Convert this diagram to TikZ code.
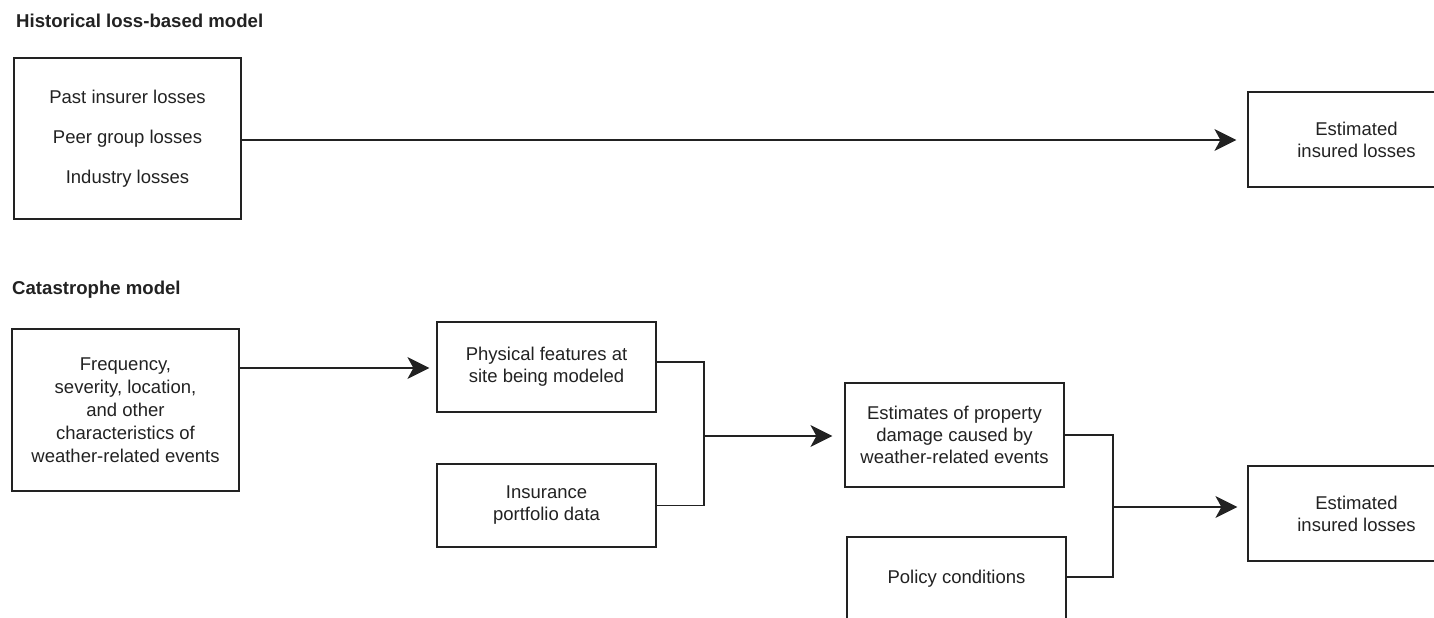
\documentclass[tikz,border=0pt]{standalone}
\usepackage{fontspec}
\setmainfont{Liberation Sans}
\usetikzlibrary{arrows.meta}
\definecolor{ink}{HTML}{222222}
\begin{document}
\begin{tikzpicture}[x=1pt,y=-1pt,
  box/.style={draw=ink,line width=1.2pt,align=center,inner sep=0pt,text=ink,
    font=\fontsize{18.5}{22}\selectfont},
  title/.style={anchor=west,inner sep=0pt,text=ink,font=\bfseries\fontsize{18.6}{20}\selectfont},
  conn/.style={draw=ink,line width=1.2pt},
  arr/.style={conn,-{Stealth[length=22pt,width=22pt,inset=6pt]}}]
\clip (0,0) rectangle (1434,618);
\fill[white] (0,0) rectangle (1434,618);
% titles
\node[title] (t1) at (16,21) {Historical loss-based model};
\node[title] (t2) at (12,290) {Catastrophe model};
% historical model
\node[box,minimum width=227pt,minimum height=161pt,font=\fontsize{18.5}{40}\selectfont] (past) at (127.5,138.5)
  {Past insurer losses\\Peer group losses\\Industry losses};
\node[box,minimum width=217pt,minimum height=95pt] (est1) at (1356.5,139.5)
  {Estimated\\insured losses};
\draw[arr,shorten >=11pt] (past.east |- 0,140) -- (est1.west |- 0,140);
% catastrophe model
\node[box,minimum width=227pt,minimum height=162pt,font=\fontsize{18.5}{23}\selectfont] (freq) at (125.5,410)
  {Frequency,\\severity, location,\\and other\\characteristics of\\weather-related events};
\node[box,minimum width=219pt,minimum height=90pt] (phys) at (546.5,367)
  {Physical features at\\site being modeled};
\node[box,minimum width=219pt,minimum height=83pt] (ins) at (546.5,505.5)
  {Insurance\\portfolio data};
\node[box,minimum width=219pt,minimum height=104pt] (dmg) at (954.5,435)
  {Estimates of property\\damage caused by\\weather-related events};
\node[box,minimum width=219pt,minimum height=84pt] (pol) at (956.5,579)
  {Policy conditions};
\node[box,minimum width=217pt,minimum height=95pt] (est2) at (1356.5,513.5)
  {Estimated\\insured losses};
\coordinate (j1) at (704,436);
\coordinate (j2) at (1113,507);
\draw[arr,shorten >=7pt] (freq.east |- 0,368) -- (phys.west |- 0,368);
\draw[conn] (phys.east |- 0,362) -| (j1);
\draw[conn] (ins.east) -| (j1);
\draw[arr,shorten >=12pt] (j1) -- (dmg.west |- j1);
\draw[conn] (dmg.east) -| (j2);
\draw[conn] (pol.east |- 0,577) -| (j2);
\draw[arr,shorten >=10pt] (j2) -- (est2.west |- j2);
\end{tikzpicture}
\end{document}
